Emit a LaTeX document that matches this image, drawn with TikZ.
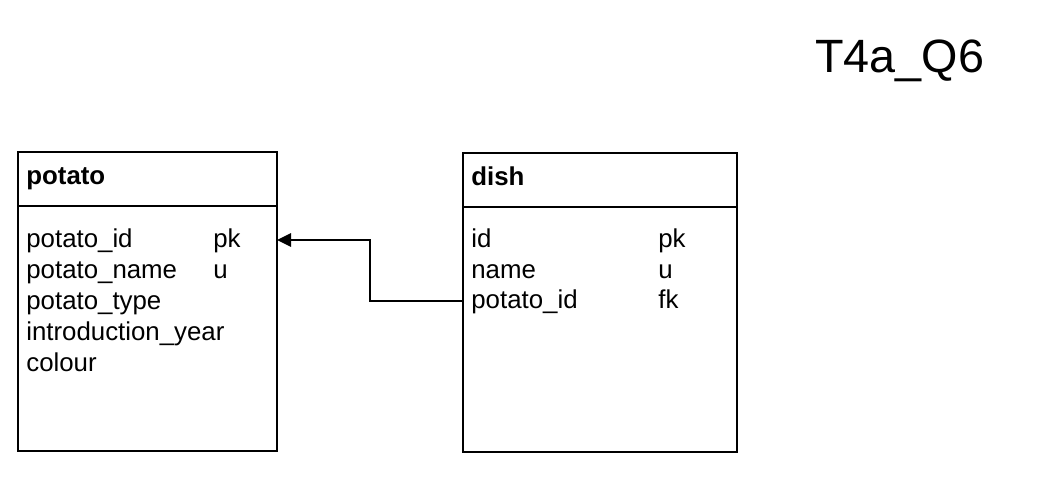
\documentclass[tikz,border=0pt]{standalone}
\usepackage{fontspec}
\setmainfont{Liberation Sans}
\usetikzlibrary{arrows.meta,positioning,calc}
\tikzset{
  tblhead/.style={draw, line width=1.6pt, rectangle, inner sep=0pt, outer sep=0pt, minimum height=1.08cm, anchor=north west},
  tblbody/.style={draw, line width=1.6pt, rectangle, inner sep=0pt, outer sep=0pt, minimum height=4.9cm, anchor=north west},
  field/.style={anchor=west, inner sep=0pt, text height=11.5pt, text depth=2.5pt, font=\fontsize{14.7}{17}\selectfont},
  tblname/.style={field, font=\fontsize{14.7}{17}\selectfont\bfseries},
  fkarrow/.style={-{Triangle[length=8pt,width=7.5pt]}, line width=1.2pt},
}

\begin{document}
\begin{tikzpicture}[x=0.02cm, y=-0.02cm]
    \useasboundingbox (0,0) rectangle (1050,480);
    % --- title ---
    \node[anchor=base west, inner sep=0pt, font=\fontsize{26.6}{30}\selectfont] (title) at (815,72) {T4a\_Q6};
    % --- potato ---
    \node[tblhead, minimum width=5.18cm] (potatohead) at (18,152) {};
    \node[tblbody, minimum width=5.18cm] (potatobody) at (potatohead.south west) {};
    \node[tblname] (potatoname) at (26,177) {potato};
    \node[field] (pid) at (26,240) {potato\_id};
    \node[field] (pname) at (26,271) {potato\_name};
    \node[field] (ptype) at (26,302) {potato\_type};
    \node[field] (pyear) at (26,333) {introduction\_year};
    \node[field] (pcolour) at (26,364) {colour};
    \node[field] (pidkey) at (213,240) {pk};
    \node[field] (pnamekey) at (213,271) {u};
    % --- dish ---
    \node[tblhead, minimum width=5.48cm] (dishhead) at (463,153) {};
    \node[tblbody, minimum width=5.48cm] (dishbody) at (dishhead.south west) {};
    \node[tblname] (dishname) at (471,178) {dish};
    \node[field] (did) at (471,240) {id};
    \node[field] (dname) at (471,271) {name};
    \node[field] (dfk) at (471,301) {potato\_id};
    \node[field] (didkey) at (658,240) {pk};
    \node[field] (dnamekey) at (658,271) {u};
    \node[field] (dfkkey) at (658,301) {fk};
    % --- reference ---
    \coordinate (bend) at ($(dishbody.west |- dfk)+(-93,0)$);
    \draw[fkarrow] (dishbody.west |- dfk) -- (bend) |- (potatobody.east |- pid);
  \end{tikzpicture}
\end{document}
